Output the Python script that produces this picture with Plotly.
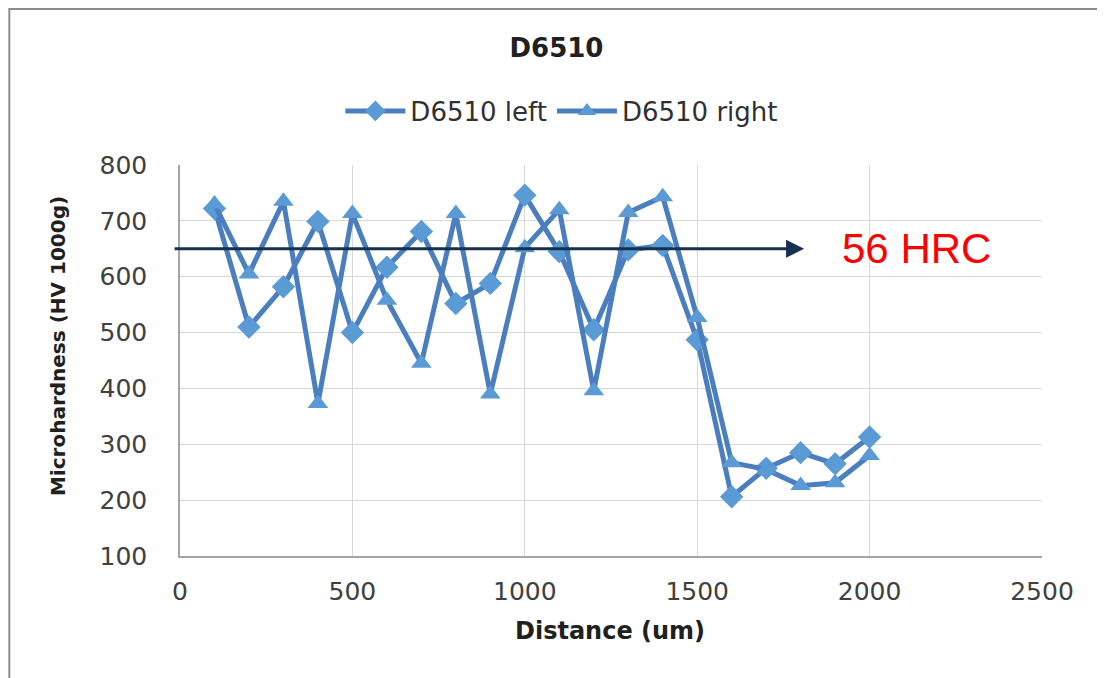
import plotly.graph_objects as go

distance = [100, 200, 300, 400, 500, 600, 700, 800, 900, 1000,
            1100, 1200, 1300, 1400, 1500, 1600, 1700, 1800, 1900, 2000]
left_hv = [722, 510, 582, 699, 500, 617, 681, 552, 588, 746,
           645, 505, 648, 656, 487, 206, 257, 285, 265, 313]
right_hv = [730, 605, 735, 373, 713, 558, 445, 713, 390, 652,
            720, 396, 715, 743, 527, 267, 255, 226, 231, 280]

ref_level = 650
ref_label = "56 HRC"
ref_start = -20
ref_end = 1810
ref_label_x = 2137

line_col = "#4a7ebf"
mark_col = "#5b9bd5"

fig = go.Figure()
fig.add_trace(go.Scatter(
    x=distance, y=left_hv, name="D6510 left", mode="lines+markers",
    line=dict(color=line_col, width=5),
    marker=dict(symbol="diamond", size=18, color=mark_col)))
fig.add_trace(go.Scatter(
    x=distance, y=right_hv, name="D6510 right", mode="lines+markers",
    line=dict(color=line_col, width=5),
    marker=dict(symbol="triangle-up", size=18, color=mark_col)))

fig.add_annotation(
    x=ref_end, y=ref_level, ax=ref_start, ay=ref_level,
    xref="x", yref="y", axref="x", ayref="y",
    showarrow=True, arrowhead=2, arrowsize=1.2, arrowwidth=3,
    arrowcolor="#16304f", text="")
fig.add_annotation(
    x=ref_label_x, y=ref_level, xref="x", yref="y", showarrow=False,
    text=ref_label, font=dict(family="Liberation Sans, Arial", size=42, color="#ff0000"))

# axis titles
fig.add_annotation(
    x=0.499, y=-0.192, xref="paper", yref="paper", showarrow=False,
    xanchor="center", yanchor="middle",
    text="<b>Distance (um)</b>",
    font=dict(family="DejaVu Sans", size=24, color="#202020"))
fig.add_annotation(
    x=-0.1415, y=0.537, xref="paper", yref="paper", showarrow=False,
    xanchor="center", yanchor="middle", textangle=-90,
    text="<b>Microhardness (HV 1000g)</b>",
    font=dict(family="DejaVu Sans", size=20, color="#202020"))

fig.add_shape(type="rect", xref="paper", yref="paper",
              x0=-0.198, x1=1.067, y0=-0.4, y1=1.399,
              line=dict(color="#8c8c8c", width=2), layer="below")

tick_font = dict(family="DejaVu Sans", size=25, color="#404040")

fig.update_layout(
    width=1097, height=670,
    margin=dict(l=172, r=63, t=157, b=122),
    paper_bgcolor="white", plot_bgcolor="white",
    title=dict(text="<b>D6510</b>", x=0.5, xanchor="center", y=0.94, yanchor="middle",
               font=dict(family="DejaVu Sans", size=26, color="#202020")),
    legend=dict(orientation="h", x=0.443, xanchor="center", y=1.138, yanchor="middle",
                font=dict(family="DejaVu Sans", size=26, color="#303030"),
                itemwidth=60),
    showlegend=True,
    xaxis=dict(range=[0, 2500], dtick=500, showgrid=True, gridcolor="#d9d9d9",
               gridwidth=1, zeroline=False, showline=True, linecolor="#a6a6a6",
               linewidth=1.5, tickfont=tick_font, ticks="outside", ticklen=12,
               tickcolor="rgba(0,0,0,0)"),
    yaxis=dict(range=[100, 800], dtick=100, showgrid=True, gridcolor="#d9d9d9",
               gridwidth=1, zeroline=False, showline=True, linecolor="#a6a6a6",
               linewidth=1.5, tickfont=tick_font, ticks="outside", ticklen=26,
               tickcolor="rgba(0,0,0,0)"),
)

fig.write_html("out.html")
